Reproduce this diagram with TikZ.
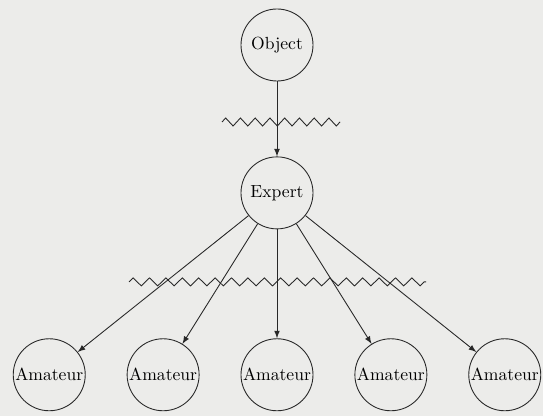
\documentclass[tikz,border=0pt]{standalone}
\usepackage{xcolor}
\usepackage{tikz}
\usetikzlibrary{shapes,arrows,positioning,calc,decorations.pathmorphing}
\definecolor{paper}{RGB}{236,236,234}
\definecolor{inkgray}{RGB}{40,40,40}

\begin{document}
\begin{tikzpicture}[font=\normalsize, node distance=0.82cm,
    agent/.style={circle, draw=inkgray, line width=0.5pt, minimum size=1.44cm, inner sep=0pt},
    flow/.style={-latex, draw=inkgray, line width=0.5pt},
    noise/.style={draw=inkgray, line width=0.5pt, decorate, decoration={zigzag, segment length=0.295cm, amplitude=0.08cm}}]
        % paper background and fixed margins
        \fill[paper] (-5.54,-7.42) rectangle (5.32,0.9);
        \useasboundingbox (-5.54,-7.42) rectangle (5.32,0.9);

        \node[agent] (object) at (0,0) {Object};
        \node[agent, below=1.5cm of object] (expert) {Expert};
        \node[agent, below=2.18cm of expert] (am3) {Amateur};
        \node[agent, left=of am3] (am2) {Amateur};
        \node[agent, left=of am2] (am1) {Amateur};
        \node[agent, right=of am3] (am4) {Amateur};
        \node[agent, right=of am4] (am5) {Amateur};

        \draw[flow] (object) -- (expert);
        \foreach \n in {am1,am2,am3,am4,am5}
            \draw[flow] (expert) -- (\n);

        % noise lines across the channels
        \draw[noise] ($(object)+(-1.1,-1.54)$) -- ($(object)+(1.26,-1.54)$);
        \draw[noise, decoration={segment length=0.328cm}] ($(expert)+(-2.96,-1.78)$) -- ($(expert)+(2.98,-1.78)$);
      \end{tikzpicture}
\end{document}
